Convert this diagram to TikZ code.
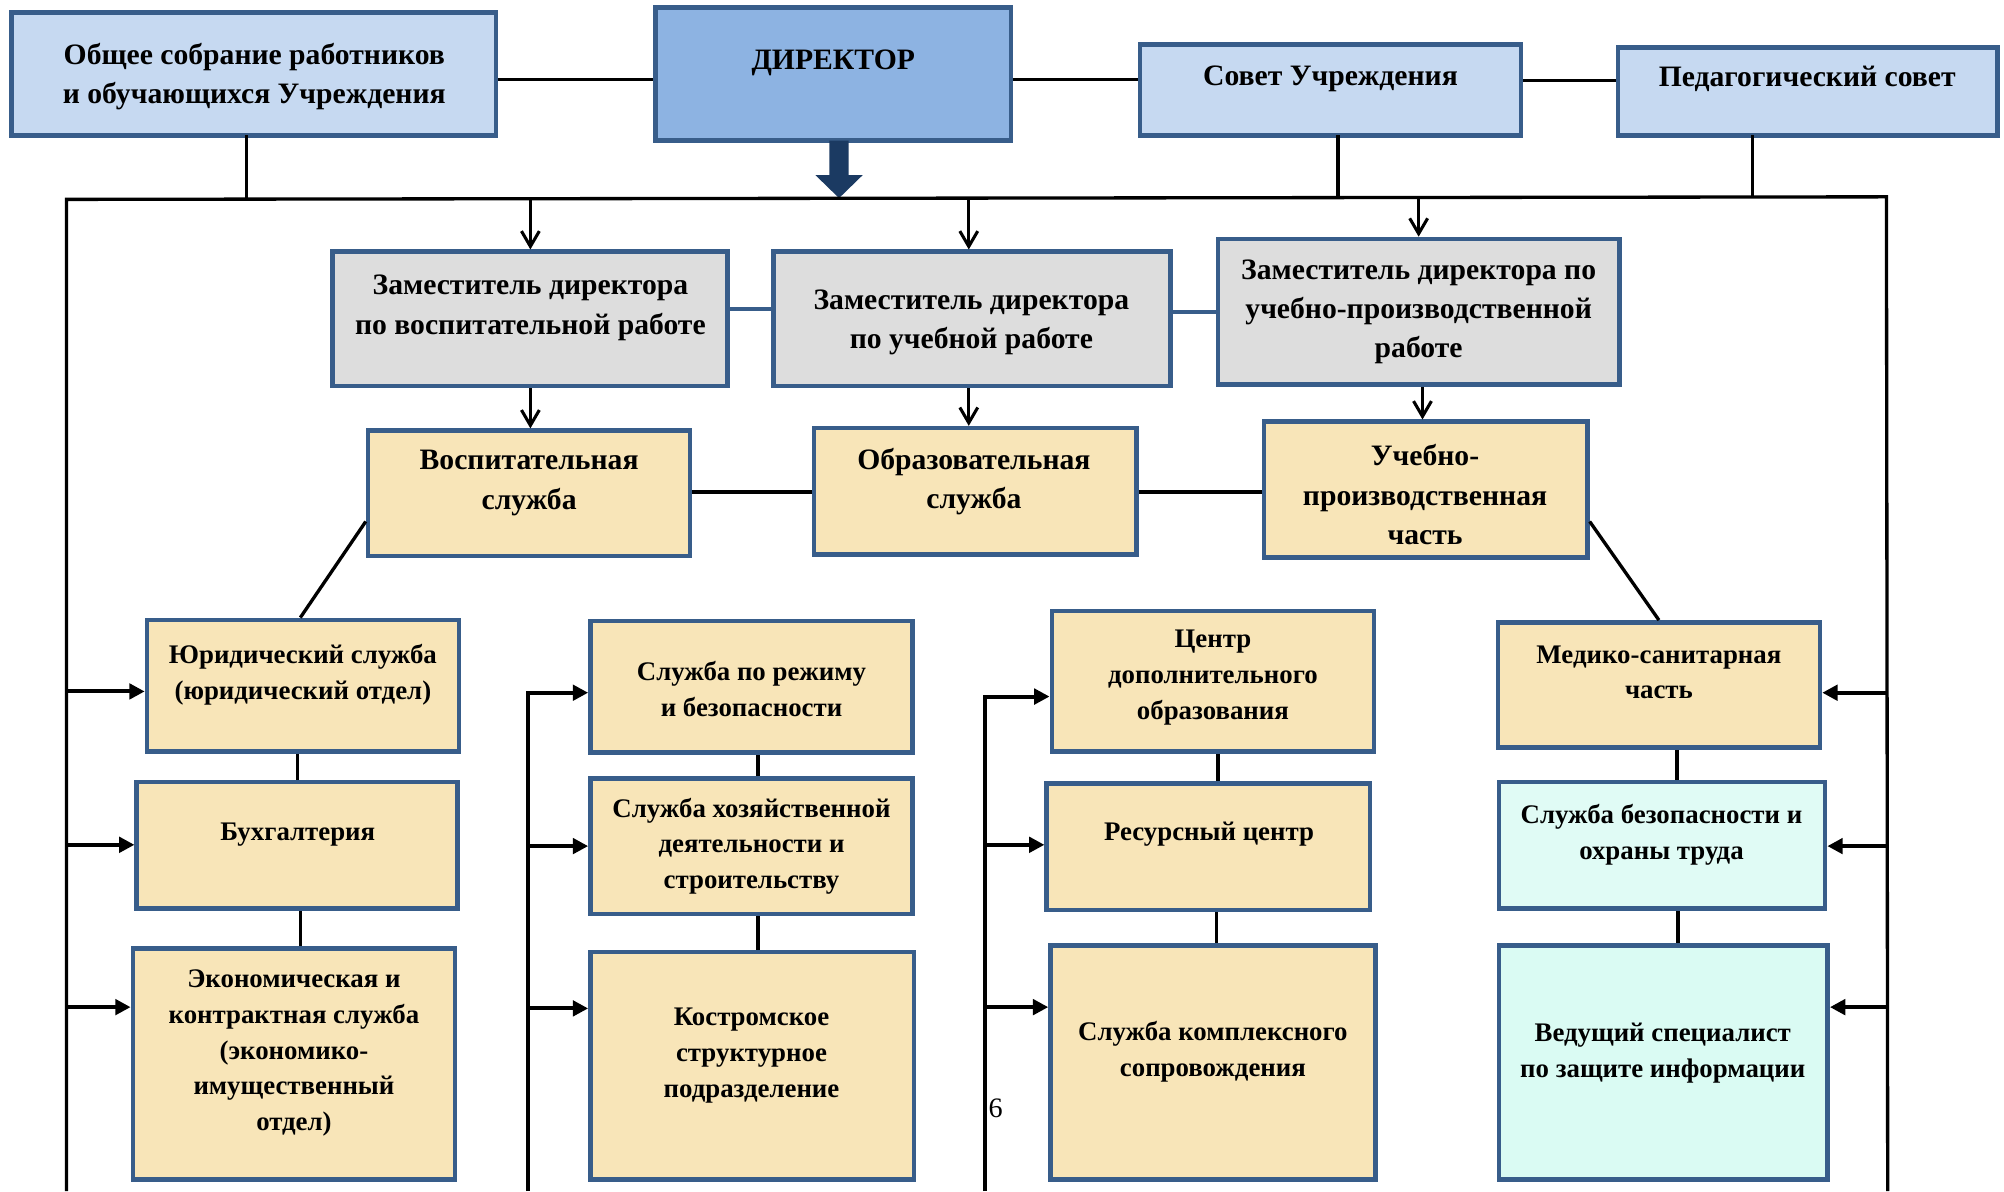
\documentclass[tikz,border=0pt]{standalone}
\usepackage{fontspec}
\setmainfont{Liberation Serif}
\usetikzlibrary{arrows.meta,fit}
\definecolor{bd}{HTML}{385D8A}
\definecolor{lblue}{HTML}{C6D9F1}
\definecolor{dblue}{HTML}{8DB3E2}
\definecolor{grey}{HTML}{DDDDDD}
\definecolor{tan}{HTML}{F8E5B8}
\definecolor{cyanA}{HTML}{E0FBF5}
\definecolor{cyanB}{HTML}{DAFBF3}
\definecolor{navy}{HTML}{1B3A62}
\tikzset{
  box/.style={draw=bd, line width=1.8pt, inner sep=0pt},
  bigtxt/.style={align=center, inner sep=0pt, yshift=-1pt, font=\bfseries\fontsize{11.6}{15.4}\selectfont},
  smtxt/.style={align=center, inner sep=0pt, yshift=-1pt, font=\bfseries\fontsize{10.5}{14}\selectfont},
  ln/.style={line width=1.3pt, black},
  blueln/.style={line width=1.7pt, bd},
  downarr/.style={line width=1.2pt, -{Straight Barb[length=6pt,width=7pt,line width=1.2pt]}},
  sidearr/.style={line width=1.6pt, -{Triangle[length=6pt,width=6pt]}},
}
\begin{document}
\begin{tikzpicture}[x=0.5pt,y=-0.5pt]
\useasboundingbox (0,0) rectangle (1568,932);
% top row
\node[box, fill=lblue, fit={(9,10)(388,106)}] (ob) {};
\node[bigtxt] (obt) at (199,58) {Общее собрание работников\\и обучающихся Учреждения};
\node[box, fill=dblue, fit={(513,6)(791,110)}] (dir) {};
\node[bigtxt] (dirt) at (652,47) {ДИРЕКТОР};
\node[box, fill=lblue, fit={(892,35)(1190,106)}] (sov) {};
\node[bigtxt] (sovt) at (1041,60) {Совет Учреждения};
\node[box, fill=lblue, fit={(1266,37)(1563,106)}] (ped) {};
\node[bigtxt] (pedt) at (1414,60) {Педагогический совет};
\draw[ln] (ob.east |- 0,62) -- (dir.west |- 0,62);
\draw[ln] (dir.east |- 0,62) -- (sov.west |- 0,62);
\draw[ln] (sov.east |- 0,63) -- (ped.west |- 0,63);
% big arrow
\fill[navy] (649,110) -- (664,110) -- (664,137) -- (675,137) -- (656.5,155) -- (638,137) -- (649,137) -- cycle;
% bus
\coordinate (busL) at (52,156);
\coordinate (busR) at (1476,154);
\coordinate (botL) at (52,932);
\coordinate (botR) at (1477,932);
\draw[ln] (botL) -- (busL) -- (busR) -- (botR);
\draw[ln] (193,106) -- (193,155);
\draw[ln] (1047,106) -- (1047,154);
\draw[ln] (1371,106) -- (1371,154);
% second row
\node[box, fill=grey, fit={(260,197)(569,302)}] (z1) {};
\node[bigtxt] (z1t) at (415,239) {Заместитель директора\\по воспитательной работе};
\node[box, fill=grey, fit={(605,197)(916,302)}] (z2) {};
\node[bigtxt] (z2t) at (760,250) {Заместитель директора\\по учебной работе};
\node[box, fill=grey, fit={(953,187)(1267,301)}] (z3) {};
\node[bigtxt] (z3t) at (1110,242) {Заместитель директора по\\учебно-производственной\\работе};
\draw[blueln] (z1.east |- 0,242) -- (z2.west |- 0,242);
\draw[blueln] (z2.east |- 0,244) -- (z3.west |- 0,244);
\draw[downarr] (415,155) -- (z1.north -| 415,0);
\draw[downarr] (758,155) -- (z2.north -| 758,0);
\draw[downarr] (1110,154) -- (z3.north -| 1110,0);
% third row
\node[box, fill=tan, fit={(288,337)(540,435)}] (s1) {};
\node[bigtxt] (s1t) at (414,376) {Воспитательная\\служба};
\node[box, fill=tan, fit={(637,335)(889,434)}] (s2) {};
\node[bigtxt] (s2t) at (762,375) {Образовательная\\служба};
\node[box, fill=tan, fit={(989,330)(1242,436)}] (s3) {};
\node[bigtxt] (s3t) at (1115,385) {Учебно-\\производственная\\часть};
\draw[downarr] (z1.south -| 415,0) -- (s1.north -| 415,0);
\draw[downarr] (z2.south -| 758,0) -- (s2.north -| 758,0);
\draw[downarr] (z3.south -| 1113,0) -- (s3.north -| 1113,0);
\draw[ln] (s1.east |- 0,385) -- (s2.west |- 0,385);
\draw[ln] (s2.east |- 0,385) -- (s3.west |- 0,385);
% column 1
\node[box, fill=tan, fit={(115,485)(359,588)}] (a1) {};
\node[smtxt] (a1t) at (237,526) {Юридический служба\\(юридический отдел)};
\node[box, fill=tan, fit={(107,612)(358,711)}] (a2) {};
\node[smtxt] (a2t) at (233,651) {Бухгалтерия};
\node[box, fill=tan, fit={(104,742)(356,923)}] (a3) {};
\node[smtxt] (a3t) at (230,822) {Экономическая и\\контрактная служба\\(экономико-\\имущественный\\отдел)};
\draw[ln] (s1.west |- 0,408) -- (a1.north -| 235,0);
\draw[ln] (a1.south -| 233,0) -- (a2.north -| 233,0);
\draw[ln] (a2.south -| 235,0) -- (a3.north -| 235,0);
\draw[sidearr] (52,541) -- (a1.west |- 0,541);
\draw[sidearr] (52,661) -- (a2.west |- 0,661);
\draw[sidearr] (52,788) -- (a3.west |- 0,788);
% column 2
\node[box, fill=tan, fit={(462,486)(714,589)}] (b1) {};
\node[smtxt] (b1t) at (588,537) {Служба по режиму\\и безопасности};
\node[box, fill=tan, fit={(462,609)(714,715)}] (b2) {};
\node[smtxt] (b2t) at (588,660) {Служба хозяйственной\\деятельности и\\строительству};
\node[box, fill=tan, fit={(462,745)(715,923)}] (b3) {};
\node[smtxt] (b3t) at (588,824) {Костромское\\структурное\\подразделение};
\draw[ln] (b1.south -| 593,0) -- (b2.north -| 593,0);
\draw[ln] (b2.south -| 593,0) -- (b3.north -| 593,0);
\coordinate (c2bot) at (413,932);
\draw[sidearr] (c2bot) -- (413,542) -- (b1.west |- 0,542);
\draw[sidearr] (413,662) -- (b2.west |- 0,662);
\draw[sidearr] (413,789) -- (b3.west |- 0,789);
% column 3
\node[box, fill=tan, fit={(823,478)(1075,588)}] (c1) {};
\node[smtxt] (c1t) at (949,528) {Центр\\дополнительного\\образования};
\node[box, fill=tan, fit={(819,613)(1072,712)}] (c2) {};
\node[smtxt] (c2t) at (946,651) {Ресурсный центр};
\node[box, fill=tan, fit={(822,740)(1076,923)}] (c3) {};
\node[smtxt] (c3t) at (949,821) {Служба комплексного\\сопровождения};
\draw[ln] (c1.south -| 953,0) -- (c2.north -| 953,0);
\draw[ln] (c2.south -| 952,0) -- (c3.north -| 952,0);
\coordinate (c3bot) at (771,932);
\draw[sidearr] (c3bot) -- (771,545) -- (c1.west |- 0,545);
\draw[sidearr] (771,661) -- (c2.west |- 0,661);
\draw[sidearr] (771,788) -- (c3.west |- 0,788);
\node[inner sep=0pt, font=\fontsize{11}{13}\selectfont] (pg) at (779,867) {6};
% column 4
\node[box, fill=tan, fit={(1172,487)(1424,585)}] (d1) {};
\node[smtxt] (d1t) at (1298,524) {Медико-санитарная\\часть};
\node[box, fill=cyanA, fit={(1173,612)(1428,711)}] (d2) {};
\node[smtxt] (d2t) at (1300,651) {Служба безопасности и\\охраны труда};
\node[box, fill=cyanB, fit={(1173,740)(1430,923)}] (d3) {};
\node[smtxt] (d3t) at (1301,822) {Ведущий специалист\\по защите информации};
\draw[ln] (s3.east |- 0,408) -- (d1.north -| 1298,0);
\draw[ln] (d1.south -| 1312,0) -- (d2.north -| 1312,0);
\draw[ln] (d2.south -| 1313,0) -- (d3.north -| 1313,0);
\draw[sidearr] (1476,542) -- (d1.east |- 0,542);
\draw[sidearr] (1476,662) -- (d2.east |- 0,662);
\draw[sidearr] (1476,788) -- (d3.east |- 0,788);
\end{tikzpicture}
\end{document}
